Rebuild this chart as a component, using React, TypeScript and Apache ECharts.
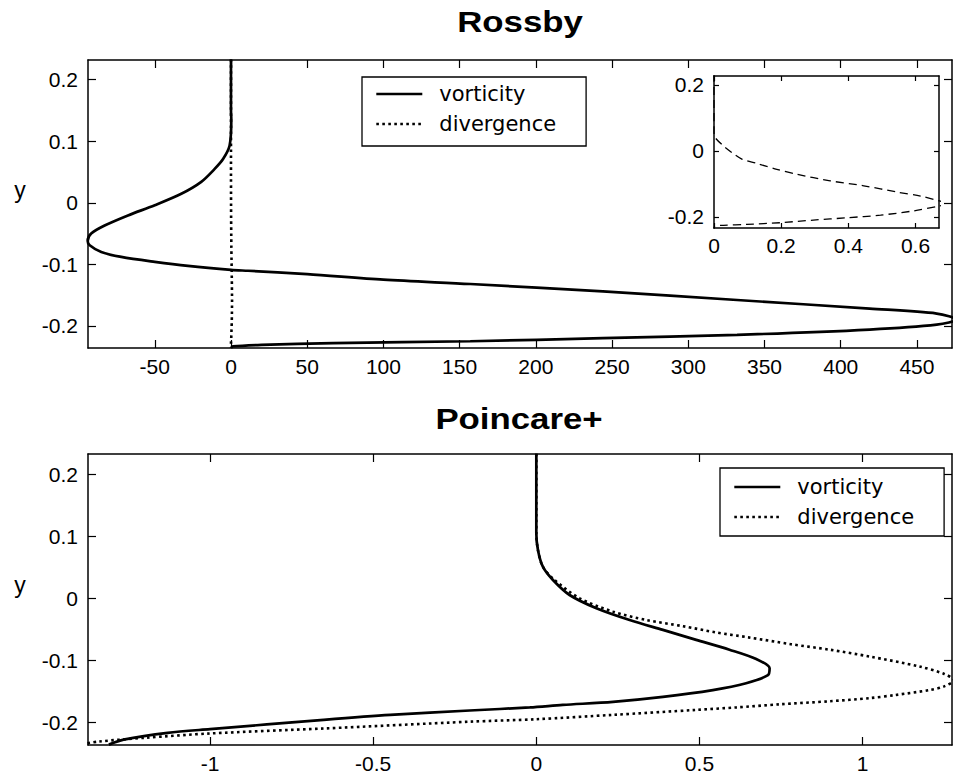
import React, { useEffect, useRef } from 'react';
import * as echarts from 'echarts';

// ---------- data (x value, y position) ----------
const rossbyVorticity: [number, number][] = [
  [0, 0.233], [0, 0.15], [0.2, 0.136], [-0.9, 0.093], [-5.2, 0.071], [-10.7, 0.055],
  [-19.5, 0.034], [-32.6, 0.0146], [-50, -0.004], [-67.6, -0.0206], [-82.9, -0.037],
  [-91.7, -0.05], [-94, -0.062], [-92.7, -0.069], [-85.1, -0.08], [-72, -0.088],
  [-50, -0.096], [-28.2, -0.1026], [0, -0.109], [11.2, -0.1105], [50, -0.116],
  [100, -0.125], [157, -0.132], [244, -0.144], [332, -0.158], [419, -0.172],
  [463, -0.18], [476, -0.19], [463, -0.198], [419, -0.206], [332, -0.2146],
  [244, -0.22], [157, -0.225], [67, -0.228], [20, -0.231], [1.3, -0.2335], [0, -0.236],
];

const rossbyDivergence: [number, number][] = [
  [0, 0.233], [0, 0.06], [0.003, 0.041], [0.028, 0.015], [0.053, -0.005], [0.083, -0.025],
  [0.127, -0.038], [0.187, -0.056], [0.247, -0.071], [0.346, -0.091], [0.446, -0.106],
  [0.545, -0.125], [0.615, -0.137], [0.672, -0.152], [0.7, -0.16], [0.672, -0.167],
  [0.595, -0.182], [0.496, -0.195], [0.396, -0.203], [0.296, -0.21], [0.197, -0.218],
  [0.098, -0.223], [0.028, -0.226], [0.003, -0.228], [0, -0.236],
];

const poincareVorticity: [number, number][] = [
  [0, 0.233], [0, 0.13], [0, 0.105], [0.005, 0.078], [0.02, 0.051], [0.051, 0.0295],
  [0.102, 0.0053], [0.184, -0.016], [0.286, -0.035], [0.388, -0.051], [0.49, -0.067],
  [0.592, -0.083], [0.674, -0.098], [0.715, -0.113], [0.71, -0.124], [0.643, -0.137],
  [0.541, -0.148], [0.388, -0.159], [0.235, -0.167], [0.081, -0.172], [-0.02, -0.176],
  [-0.204, -0.181], [-0.448, -0.188], [-0.652, -0.196], [-1.0, -0.211], [-1.13, -0.217],
  [-1.265, -0.228], [-1.31, -0.236],
];

const poincareDivergence: [number, number][] = [
  [0, 0.233], [0, 0.13], [0, 0.105], [0.005, 0.078], [0.02, 0.051], [0.055, 0.03],
  [0.133, 0.0], [0.235, -0.0215], [0.337, -0.035], [0.45, -0.045], [0.55, -0.055],
  [0.65, -0.063], [0.78, -0.074], [0.9, -0.083], [1.022, -0.094], [1.174, -0.11],
  [1.25, -0.122], [1.28, -0.132], [1.25, -0.142], [1.205, -0.148], [1.1, -0.156],
  [1.022, -0.161], [0.9, -0.166], [0.745, -0.171], [0.613, -0.176], [0.49, -0.18],
  [0.235, -0.188], [0.0, -0.195], [-0.204, -0.199], [-0.652, -0.21], [-1.0, -0.218],
  [-1.2, -0.225], [-1.34, -0.231], [-1.4, -0.236],
];

// ---------- ticks / labels ----------
const rossbyXTicks = [-50, 0, 50, 100, 150, 200, 250, 300, 350, 400, 450];
const mainYTicks = [-0.2, -0.1, 0, 0.1, 0.2];
const insetXTicks = [0, 0.2, 0.4, 0.6];
const insetYTicks = [-0.2, 0, 0.2];
const poincareXTicks = [-1, -0.5, 0, 0.5, 1];
const legendNames = ['vorticity', 'divergence'];
const titles = ['Rossby', 'Poincare+'];
const yName = 'y';

const fmt = (v: number) => `${Math.round(v * 1000) / 1000}`;

const axis = (
  gridIndex: number, min: number, max: number, ticks: number[],
  position: string, labels: boolean, tickLen: number, margin: number,
) => ({
  type: 'value',
  gridIndex,
  min,
  max,
  position,
  axisLine: { show: true, onZero: false, lineStyle: { color: '#000', width: 1.5 } },
  axisTick: {
    show: true, inside: true, length: tickLen, customValues: ticks,
    lineStyle: { color: '#000', width: 1.2 },
  },
  axisLabel: {
    show: labels, customValues: ticks, margin, color: '#000',
    fontFamily: 'Liberation Sans', fontSize: 21, formatter: fmt,
  },
  splitLine: { show: false },
  minorTick: { show: false },
});

const solid = { color: '#000', width: 2.7, type: 'solid' };
const dotted = { color: '#000', width: 2.6, type: [2.6, 3.4], cap: 'butt' };
const dashed = { color: '#000', width: 1.3, type: [8, 5] };

const legendCfg = (left: number, top: number, padding: number[]) => ({
  data: legendNames,
  orient: 'vertical',
  left,
  top,
  padding,
  itemGap: 8,
  itemWidth: 46,
  itemHeight: 14,
  borderColor: '#000',
  borderWidth: 1.3,
  borderRadius: 0,
  backgroundColor: '#fff',
  selectedMode: false,
  itemStyle: { opacity: 0, color: 'rgba(0,0,0,0)', borderWidth: 0 },
  lineStyle: { width: 2.6 },
  textStyle: {
    fontFamily: 'DejaVu Sans', fontSize: 21, color: '#000', lineHeight: 22,
    padding: [0, 0, 0, 12],
  },
});

const titleText = (text: string, x: number, y: number) => ({
  type: 'text',
  x,
  y,
  scaleX: 1.2,
  z: 10,
  style: {
    text,
    fill: '#000',
    fontFamily: 'Liberation Sans',
    fontWeight: 'bold',
    fontSize: 29,
    align: 'center',
    verticalAlign: 'middle',
    textAlign: 'center',
    textVerticalAlign: 'middle',
  },
});

const nameText = (text: string, x: number, y: number) => ({
  type: 'text',
  x,
  y,
  z: 10,
  style: {
    text,
    fill: '#000',
    fontFamily: 'Liberation Sans',
    fontSize: 23,
    align: 'center',
    verticalAlign: 'middle',
    textAlign: 'center',
    textVerticalAlign: 'middle',
  },
});

const lineSeries = (name: string, xi: number, data: [number, number][], lineStyle: object, z: number) => ({
  name,
  type: 'line',
  xAxisIndex: xi,
  yAxisIndex: xi,
  data,
  symbol: 'none',
  smooth: 0.3,
  color: '#000',
  itemStyle: { color: '#000' },
  lineStyle,
  z,
});

export default function App() {
  const ref = useRef<HTMLDivElement>(null);
  useEffect(() => {
    document.body.style.margin = '0';
    if (!ref.current) return;
    const chart = echarts.init(ref.current, undefined, { renderer: 'svg' });
    const yMin = -0.236;
    const yMax = 0.232;
    chart.setOption({
      animation: false,
      backgroundColor: '#fff',
      grid: [
        { left: 88, top: 60, width: 864, height: 288, show: false },
        { left: 714, top: 76, width: 225, height: 152, show: true, backgroundColor: '#fff', borderWidth: 0, z: 3 },
        { left: 88, top: 454, width: 864, height: 291, show: false },
      ],
      xAxis: [
        axis(0, -93.8, 473, rossbyXTicks, 'bottom', true, 8, 8),
        axis(0, -93.8, 473, rossbyXTicks, 'top', false, 8, 8),
        { ...axis(1, 0, 0.67, insetXTicks, 'bottom', true, 5, 7), z: 4 },
        { ...axis(1, 0, 0.67, insetXTicks, 'top', false, 5, 7), z: 4 },
        axis(2, -1.374, 1.274, poincareXTicks, 'bottom', true, 8, 8),
        axis(2, -1.374, 1.274, poincareXTicks, 'top', false, 8, 8),
      ],
      yAxis: [
        axis(0, yMin, yMax, mainYTicks, 'left', true, 8, 10),
        axis(0, yMin, yMax, mainYTicks, 'right', false, 8, 10),
        { ...axis(1, -0.234, 0.227, insetYTicks, 'left', true, 5, 10), z: 4 },
        { ...axis(1, -0.234, 0.227, insetYTicks, 'right', false, 5, 10), z: 4 },
        axis(2, -0.2366, 0.2327, mainYTicks, 'left', true, 8, 10),
        axis(2, -0.2366, 0.2327, mainYTicks, 'right', false, 8, 10),
      ],
      legend: [
        legendCfg(362, 77, [6, 30, 11, 13]),
        legendCfg(720, 468, [8, 30, 8, 13]),
      ],
      series: [
        lineSeries('divergence', 0, rossbyDivergence, dotted, 2),
        lineSeries('vorticity', 0, rossbyVorticity, solid, 3),
        lineSeries('divergence', 4, poincareDivergence, dotted, 2),
        lineSeries('vorticity', 4, poincareVorticity, solid, 3),
        lineSeries('divergence (inset)', 2, rossbyDivergence, dashed, 5),
      ],
      graphic: [
        titleText(titles[0], 520, 22),
        titleText(titles[1], 519, 419),
        nameText(yName, 20, 190),
        nameText(yName, 20, 585),
      ],
    });
    return () => chart.dispose();
  }, []);
  return <div ref={ref} style={{ width: 953, height: 780 }} />;
}
